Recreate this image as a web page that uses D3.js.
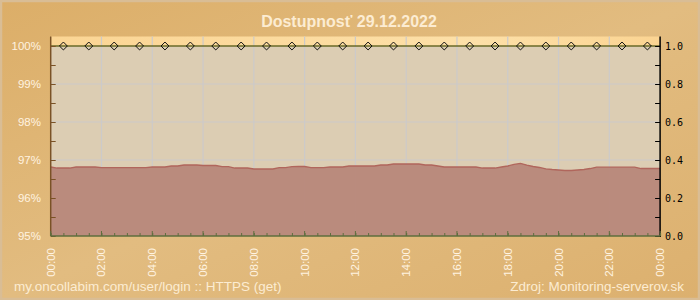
<!DOCTYPE html>
<html><head><meta charset="utf-8">
<script src="https://cdn.jsdelivr.net/npm/d3@7"></script>
<style>html,body{margin:0;padding:0;background:#dcb06c;}svg{display:block;}</style>
</head><body>
<script>
// Availability (%) every 15 minutes, 00:00 .. 24:00
const times = d3.range(0, 24.01, 0.25);
const availability = [
96.816,96.789,96.789,96.789,96.816,96.816,96.816,96.816,96.797,96.797,
96.797,96.797,96.797,96.797,96.797,96.797,96.816,96.816,96.816,96.842,
96.842,96.868,96.868,96.868,96.855,96.855,96.855,96.824,96.824,96.789,
96.789,96.789,96.763,96.763,96.763,96.763,96.797,96.797,96.824,96.829,
96.829,96.797,96.797,96.797,96.816,96.816,96.816,96.842,96.842,96.842,
96.842,96.842,96.868,96.868,96.895,96.895,96.895,96.895,96.895,96.868,
96.868,96.842,96.816,96.816,96.816,96.816,96.816,96.816,96.789,96.789,
96.789,96.816,96.842,96.882,96.913,96.868,96.829,96.803,96.768,96.750,
96.737,96.724,96.724,96.737,96.750,96.776,96.811,96.811,96.811,96.811,
96.811,96.811,96.811,96.776,96.776,96.776,96.776];
// Status points (1.0 = up) at each half hour
const statusTimes = d3.range(0.5, 24, 1);
const statusValues = statusTimes.map(() => 1.0);
const leftTicks = [95, 96, 97, 98, 99, 100];
const rightTicks = [0.0, 0.2, 0.4, 0.6, 0.8, 1.0];
const xTickHours = d3.range(0, 24.01, 2);
const titleText = "Dostupnosť 29.12.2022";
const footLeft = "my.oncollabim.com/user/login :: HTTPS (get)";
const footRight = "Zdroj: Monitoring-serverov.sk";

const W = 700, H = 300;
const m = {l: 50.7, r: 660.1, t: 36.5, b: 236};
const svg = d3.select("body").append("svg").attr("width", W).attr("height", H);
const defs = svg.append("defs");
const bg = defs.append("linearGradient").attr("id","bg").attr("x1",0).attr("y1",0).attr("x2",1).attr("y2",1);
bg.append("stop").attr("offset","0%").attr("stop-color","#dcae68");
bg.append("stop").attr("offset","50%").attr("stop-color","#e2bc80");
bg.append("stop").attr("offset","100%").attr("stop-color","#dcb06e");
const pb = defs.append("linearGradient").attr("id","pb").attr("x1",0).attr("y1",0).attr("x2",1).attr("y2",0);
pb.append("stop").attr("offset","0%").attr("stop-color","#fbd594");
pb.append("stop").attr("offset","70%").attr("stop-color","#fde0a8");
pb.append("stop").attr("offset","100%").attr("stop-color","#fbd492");

svg.append("rect").attr("width",W).attr("height",H).attr("fill","url(#bg)");
svg.append("rect").attr("x",1).attr("y",1).attr("width",W-2).attr("height",H-2)
  .attr("fill","none").attr("stroke","#d9bd95").attr("stroke-width",2.5);

const x = d3.scaleLinear().domain([0,24]).range([m.l, m.r]);
const yL = d3.scaleLinear().domain([95,100]).range([m.b, 46]);
const yR = d3.scaleLinear().domain([0,1]).range([m.b, 46]);

// plot background
svg.append("rect").attr("x",m.l).attr("y",m.t).attr("width",m.r-m.l).attr("height",m.b-m.t).attr("fill","url(#pb)");
// status area (beige) from 1.0 to 0
const statusPts = [[0, statusValues[0]]].concat(statusTimes.map((t,i)=>[t,statusValues[i]]), [[24, statusValues[statusValues.length-1]]]);
svg.append("path").datum(statusPts)
  .attr("d", d3.area().x(d=>x(d[0])).y0(yR(0)).y1(d=>yR(d[1])))
  .attr("fill","#dccdb3");

// grid
const g = svg.append("g");
g.selectAll(".vg").data(xTickHours.slice(1,-1)).join("line")
  .attr("x1",d=>x(d)).attr("x2",d=>x(d)).attr("y1",m.t).attr("y2",m.b)
  .attr("stroke","#cccaca").attr("stroke-width",1.2);
g.selectAll(".hg").data(leftTicks.slice(1,-1)).join("line")
  .attr("x1",m.l).attr("x2",m.r).attr("y1",d=>yL(d)).attr("y2",d=>yL(d))
  .attr("stroke","#cccaca").attr("stroke-width",1.2);

// availability area
const pts = times.map((t,i)=>[t, availability[i]]);
svg.append("path").datum(pts)
  .attr("d", d3.area().x(d=>x(d[0])).y0(yL(95)).y1(d=>yL(d[1])))
  .attr("fill","#b9887b").attr("fill-opacity",0.97);
svg.append("path").datum(pts)
  .attr("d", d3.line().x(d=>x(d[0])).y(d=>yL(d[1])))
  .attr("fill","none").attr("stroke","#b0665c").attr("stroke-width",1.3);

// status line and diamonds
svg.append("line").attr("x1",m.l).attr("x2",m.r).attr("y1",yR(1)).attr("y2",yR(1))
  .attr("stroke","#6a6a28").attr("stroke-width",1.3);
svg.selectAll(".dm").data(statusTimes.map((t,i)=>[t,statusValues[i]])).join("path")
  .attr("d", d3.symbol(d3.symbolDiamond2, 40))
  .attr("transform", d=>`translate(${x(d[0])},${yR(d[1])})`)
  .attr("fill","none").attr("stroke","#111").attr("stroke-width",1);

// left axis
const la = svg.append("g").attr("transform",`translate(${m.l},0)`)
  .call(d3.axisRight(yL).tickValues(d3.range(95,100.01,0.5)).tickSize(5).tickFormat(""));
la.select(".domain").remove();
la.selectAll("line").attr("stroke","#7a5226");
svg.append("line").attr("x1",m.l).attr("x2",m.l).attr("y1",m.t).attr("y2",m.b).attr("stroke","#7a5226").attr("stroke-width",1.5);
svg.selectAll(".ll").data(leftTicks).join("text")
  .attr("x",41).attr("y",d=>yL(d)+4).attr("text-anchor","end")
  .attr("font-family","Liberation Sans, Arial, sans-serif").attr("font-size",11.5)
  .attr("fill","#fff3e0").text(d=>d+"%");

// right axis
const ra = svg.append("g").attr("transform",`translate(${m.r},0)`)
  .call(d3.axisLeft(yR).tickValues(d3.range(0,1.01,0.1)).tickSize(5).tickFormat(""));
ra.select(".domain").remove();
ra.selectAll("line").attr("stroke","#000");
svg.append("line").attr("x1",m.r).attr("x2",m.r).attr("y1",m.t).attr("y2",m.b+1).attr("stroke","#000").attr("stroke-width",1.5);
svg.selectAll(".rl").data(rightTicks).join("text")
  .attr("x",665).attr("y",d=>yR(d)+4).attr("text-anchor","start")
  .attr("font-family","DejaVu Sans Mono, monospace").attr("font-size",10)
  .attr("fill","#000").text(d=>d.toFixed(1));

// bottom axis
const ba = svg.append("g").attr("transform",`translate(0,${m.b})`)
  .call(d3.axisTop(x).tickValues(d3.range(0,24.01,0.5)).tickSize(3).tickFormat(""));
ba.select(".domain").remove();
ba.selectAll("line").attr("stroke","#5e6e3e");
svg.selectAll(".mt").data(xTickHours).join("line")
  .attr("x1",d=>x(d)).attr("x2",d=>x(d)).attr("y1",m.b).attr("y2",m.b-5).attr("stroke","#5e6e3e");
svg.append("line").attr("x1",m.l).attr("x2",m.r).attr("y1",m.b).attr("y2",m.b).attr("stroke","#5e6e3e").attr("stroke-width",1.5);
svg.selectAll(".xl").data(xTickHours).join("text")
  .attr("transform",d=>`translate(${x(d)+4},248) rotate(-90)`)
  .attr("text-anchor","end")
  .attr("font-family","Liberation Sans, Arial, sans-serif").attr("font-size",11.5)
  .attr("fill","#fff3e0").text(d=>String(d%24).padStart(2,"0")+":00");

// title & footers
svg.append("text").attr("x",349).attr("y",27).attr("text-anchor","middle")
  .attr("font-family","Liberation Sans, Arial, sans-serif").attr("font-size",16).attr("font-weight","bold")
  .attr("fill","#fcecd2").text(titleText);
svg.append("text").attr("x",14).attr("y",291)
  .attr("font-family","Liberation Sans, Arial, sans-serif").attr("font-size",13.5)
  .attr("fill","#fcecd2").text(footLeft);
svg.append("text").attr("x",684).attr("y",291).attr("text-anchor","end")
  .attr("font-family","Liberation Sans, Arial, sans-serif").attr("font-size",13.5)
  .attr("fill","#fcecd2").text(footRight);
</script>
</body></html>
